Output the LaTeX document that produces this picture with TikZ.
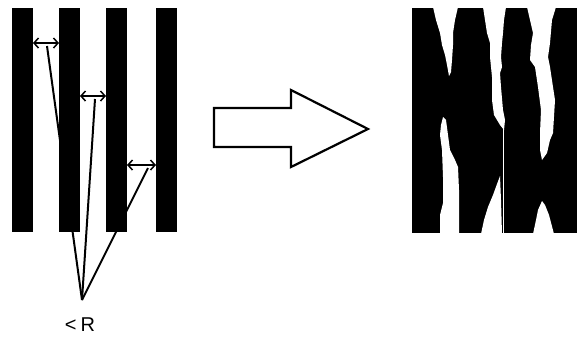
\documentclass[tikz,border=0pt]{standalone}
\usepackage{fontspec}
\setmainfont{Liberation Sans}
\usetikzlibrary{arrows.meta}
\tikzset{
  bar/.style={fill=black, draw=none},
  leader/.style={line width=2pt, black},
  gapdim/.style={line width=1.5pt, {Straight Barb[length=4.5pt,width=10pt]}-{Straight Barb[length=4.5pt,width=10pt]}},
  bigarrow/.style={line width=2.2pt, fill=white, line join=miter},
  hole/.style={fill=white, draw=none}
}
\begin{document}
\begin{tikzpicture}[x=1pt,y=-1pt]
\useasboundingbox (0,0) rectangle (580,338);
% named points
\coordinate (apex) at (82,300);
\coordinate (m1) at (47,46);
\coordinate (m2) at (95,99);
\coordinate (m3) at (148,168);
\coordinate (a1l) at (33,43); \coordinate (a1r) at (59,43);
\coordinate (a2l) at (80,96); \coordinate (a2r) at (106,96);
\coordinate (a3l) at (127,165); \coordinate (a3r) at (156,165);
% leader lines (behind bars)
\draw[leader] (m1) -- (apex);
\draw[leader] (m2) -- (apex);
\draw[leader] (m3) -- (apex);
% left bars
\fill[bar] (12,8) rectangle (33,232);
\fill[bar] (59,8) rectangle (80,232);
\fill[bar] (106,8) rectangle (127,232);
\fill[bar] (156,8) rectangle (177,232);
% dimension arrows
\draw[gapdim] (a1l) -- (a1r);
\draw[gapdim] (a2l) -- (a2r);
\draw[gapdim] (a3l) -- (a3r);
% label
\node[font=\fontsize{20}{20}\selectfont, inner sep=0pt] (lbl) at (80,325) {<\hspace{4pt}R};
% big arrow
\draw[bigarrow] (214,108) -- (291,108) -- (291,90) -- (368,129) -- (291,167) -- (291,147) -- (214,147) -- cycle;
% right image
\fill[bar] (412,8) rectangle (577,233);
% gap 1 top
\fill[hole] (433,7) -- (436,20) -- (440,33) -- (442,45) -- (445,55) -- (447,65) -- (449,76) -- (451,72) -- (452,60) -- (453,45) -- (453,33) -- (455,20) -- (458,7) -- cycle;
% gap 1 bottom
\fill[hole] (440,234) -- (440,215) -- (443,203) -- (443,177) -- (442,150) -- (440,135) -- (441,125) -- (443,117) -- (446,120) -- (448,135) -- (450,150) -- (455,160) -- (458,167) -- (459,190) -- (459,234) -- cycle;
% gap 2 top
\fill[hole] (483,7) -- (485,20) -- (487,33) -- (490,43) -- (490,57) -- (492,77) -- (492,100) -- (494,115) -- (500,125) -- (504,130) -- (505,120) -- (503,110) -- (501,87) -- (500,73) -- (502,67) -- (501,57) -- (502,43) -- (503,33) -- (504,20) -- (506,7) -- cycle;
% gap 2 hairline
\fill[hole] (502.5,128) rectangle (503.7,234);
% gap 2 bottom
\fill[hole] (481,234) -- (484,220) -- (488,207) -- (493,195) -- (497,184) -- (500,176) -- (501,200) -- (502,234) -- cycle;
% gap 3 top
\fill[hole] (527,7) -- (530,20) -- (533,33) -- (531,45) -- (530,60) -- (535,67) -- (538,87) -- (541,110) -- (540,133) -- (540,150) -- (542,160) -- (547,153) -- (550,140) -- (553,133) -- (555,100) -- (553,87) -- (550,67) -- (548,57) -- (550,43) -- (552,20) -- (556,7) -- cycle;
% gap 3 bottom
\fill[hole] (533,234) -- (536,220) -- (538,210) -- (542,201) -- (545,205) -- (549,215) -- (554,234) -- cycle;
\end{tikzpicture}
\end{document}
